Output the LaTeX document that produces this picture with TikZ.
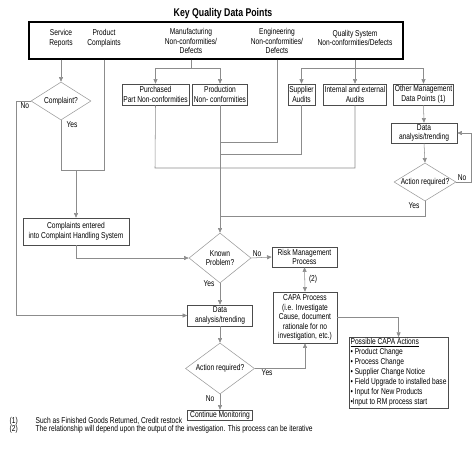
\documentclass[tikz,border=0pt]{standalone}
\usepackage{fontspec}
\setmainfont{Liberation Sans}[FakeStretch=0.78]
\usetikzlibrary{arrows.meta,shapes.geometric}

\begin{document}
\begin{tikzpicture}[x=0.75pt,y=-0.75pt,font=\fontsize{6.4}{7.2}\selectfont,
  box/.style={draw=black!70,fill=white,align=center,inner sep=1pt},
  sz/.style 2 args={minimum width=#1,minimum height=#2},
  decision/.style={diamond,draw=black!40,inner sep=0pt},
  line/.style={draw=black!45},
  flow/.style={line,-{Triangle[length=3.5pt,width=3pt]}},
  tag/.style={inner sep=1pt}]

\useasboundingbox (0,0) rectangle (474,450);

% key quality data points
\node[font=\fontsize{8.4}{9}\selectfont\bfseries] (title) at (223,14) {Key Quality Data Points};
\node[draw,line width=1.1pt,sz={280.5pt}{27.75pt}] (keybox) at (216,40.5) {};
\node[align=center] (srv) at (61,38)  {Service\\Reports};
\node[align=center] (prod) at (104,38) {Product\\Complaints};
\node[align=center] (mfg) at (191,41) {Manufacturing\\Non-conformities/\\Defects};
\node[align=center] (eng) at (277,41) {Engineering\\Non-conformities/\\Defects};
\node[align=center] (qs)  at (355,38) {Quality System\\Non-conformities/Defects};

% second row
\node[box,sz={48.75pt}{15.75pt}] (purch) at (155.5,94.5) {Purchased\\Part Non-conformities};
\node[box,sz={39.75pt}{15.75pt}] (prodn) at (220,94.5) {Production\\Non- conformities};
\node[box,sz={18.75pt}{15.75pt}] (supp)  at (301.5,94.5) {Supplier\\Audits};
\node[box,sz={46.5pt}{15.75pt}]  (intl)  at (355,94.5) {Internal and external\\Audits};
\node[box,sz={44.25pt}{15.75pt}] (other) at (423.5,94.5) {Other Management\\Data Points (1)};

% complaints
\node[decision,sz={45pt}{28.5pt},label=center:Complaint?] (comp) at (61,101) {};
\node[box,sz={79.5pt}{20.25pt}] (cent) at (76,231.5) {Complaints entered\\into Complaint Handling System};

% other management data
\node[box,sz={49.5pt}{15pt}] (dat2) at (424,133) {Data\\analysis/trending};
\node[decision,sz={46.5pt}{28.5pt},label=center:Action required?] (act2) at (425,182) {};

% main path
\node[decision,sz={46.5pt}{37.5pt},label={[align=center]center:Known\\Problem?}] (known) at (220,258) {};
\node[box,sz={48.75pt}{15pt}] (risk) at (304.5,257) {Risk Management\\Process};
\node[box,sz={48pt}{38.25pt}] (capa) at (305,317.5) {CAPA Process\\(i.e. Investigate\\Cause, document\\rationale for no\\investigation, etc.)};
\node[box,sz={48.75pt}{15.75pt}] (dat1) at (220,315.5) {Data\\analysis/trending};
\node[decision,sz={51.75pt}{38.25pt},label=center:Action required?] (act1) at (220,368.5) {};
\node[box,sz={48.75pt}{7.5pt},inner sep=0.5pt] (cont) at (220,415) {Continue Monitoring};
\node[box,sz={72.75pt}{52.5pt},anchor=north west,align=left,font=\fontsize{6.4}{7.5}\selectfont] (actions) at (349,337)
  {\underline{Possible CAPA Actions}\\
   • Product Change\\
   • Process Change\\
   • Supplier Change Notice\\
   • Field Upgrade to installed base\\
   • Input for New Products\\
   •Input to RM process start};

% notes
\node[anchor=west,tag] (n1) at (8,421) {(1)};
\node[anchor=west,tag] (t1) at (34,421) {Such as Finished Goods Returned, Credit restock};
\node[anchor=west,tag] (n2) at (8,429) {(2)};
\node[anchor=west,tag] (t2) at (34,429) {The relationship will depend upon the output of the investigation. This process can be iterative};

% joins
\coordinate (jc) at (76,170);
\coordinate (jm) at (191,68);
\coordinate (jq) at (355,68);
\coordinate (jp) at (155,168);
\coordinate (jy) at (220,216);

% complaint branch
\draw[flow] (keybox.south -| srv) -- (comp.north);
\draw[flow] (comp.west) -- ++(-14,0) |- (dat1.west);
\node[tag,anchor=north east] at (comp.west) {No};
\draw[line] (comp.south) |- (jc);
\node[tag,anchor=north west] at ([xshift=3pt]comp.south) {Yes};
\draw[line] (keybox.south -| prod) |- (jc);
\draw[flow] (jc) -- (cent.north);
\draw[flow] (cent.south) |- (known.west);

% manufacturing and engineering
\draw[line] (keybox.south -| mfg) -- (jm);
\draw[flow] (jm) -| (purch.north);
\draw[flow] (jm) -| (prodn.north);
\draw[line] (purch.south) -- (jp) -| (intl.south);
\draw[flow] (prodn.south) -- (known.north);
\draw[line] (keybox.south -| eng) |- (220,142);
\draw[line] (supp.south) |- (220,154);

% quality system
\draw[flow] (keybox.south -| qs) -- (intl.north);
\draw[flow] (jq) -| (supp.north);
\draw[flow] (jq) -| (other.north);
\draw[flow] (other.south) -- (dat2.north);
\draw[flow] (dat2.south) -- (act2.north);
\draw[flow] (act2.east) -- ++(15,0) |- (dat2.east);
\node[tag,anchor=south west] at (act2.east) {No};
\draw[line] (act2.south) |- (jy);
\node[tag,anchor=north east] at ([xshift=-3pt]act2.south) {Yes};

% decisions
\draw[flow] (known.east) -- (risk.west);
\node[tag,anchor=south west] at (known.east) {No};
\draw[{Triangle[length=3.5pt,width=3pt]}-{Triangle[length=3.5pt,width=3pt]},line] (risk.south) -- node[tag,right=2pt] {(2)} (capa.north);
\draw[flow] (capa.east) -| (actions.north);
\draw[flow] (known.south) -- (dat1.north);
\node[tag,anchor=north east] at ([xshift=-3pt,yshift=3pt]known.south) {Yes};
\draw[flow] (dat1.south) -- (act1.north);
\draw[flow] (act1.east) -| (capa.south);
\node[tag,anchor=north west] at ([xshift=4pt]act1.east) {Yes};
\draw[flow] (act1.south) -- (cont.north);
\node[tag,anchor=north east] at ([xshift=-3pt]act1.south) {No};

\end{tikzpicture}
\end{document}
